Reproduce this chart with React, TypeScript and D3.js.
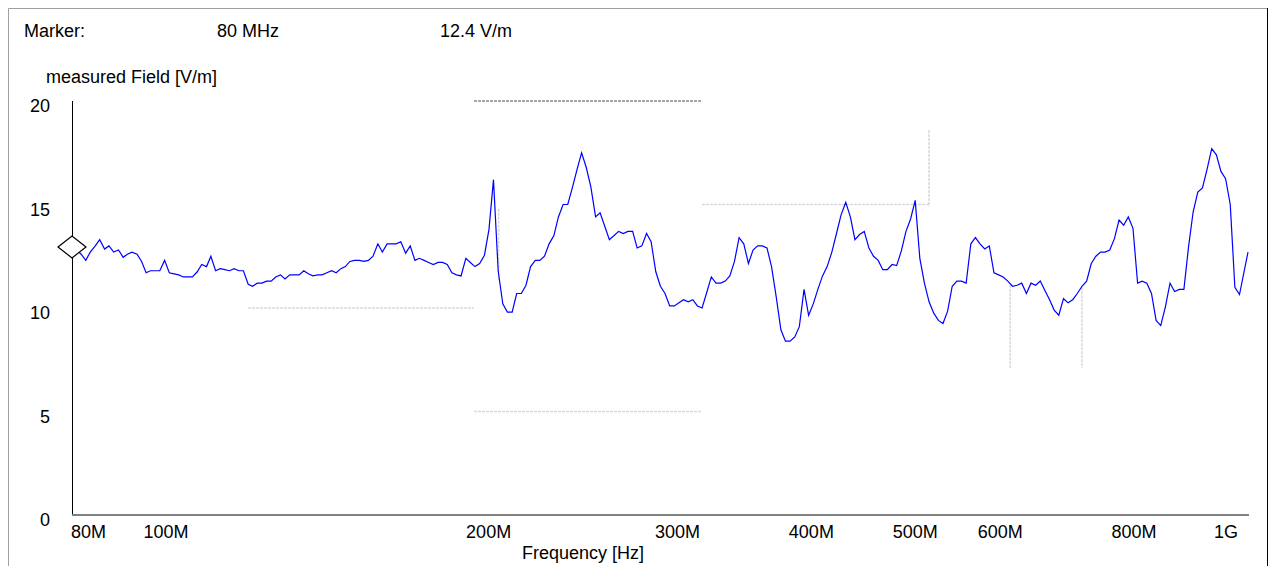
import React from 'react';
import * as d3 from 'd3';

// sweep frequencies (MHz), 1 % steps as stored by the test software
const freqMHz = [
  80.0, 80.8, 81.6, 82.4, 83.2, 84.1, 84.9, 85.8, 86.6, 87.5,
  88.4, 89.3, 90.1, 91.0, 92.0, 92.9, 93.8, 94.7, 95.7, 96.6,
  97.6, 98.6, 99.6, 100.6, 101.6, 102.6, 103.6, 104.7, 105.7, 106.8,
  107.8, 108.9, 110.0, 111.1, 112.2, 113.3, 114.5, 115.6, 116.8, 117.9,
  119.1, 120.3, 121.5, 122.7, 123.9, 125.2, 126.4, 127.7, 129.0, 130.3,
  131.6, 132.9, 134.2, 135.6, 136.9, 138.3, 139.7, 141.1, 142.5, 143.9,
  145.3, 146.8, 148.3, 149.7, 151.2, 152.7, 154.3, 155.8, 157.4, 159.0,
  160.5, 162.1, 163.8, 165.4, 167.1, 168.7, 170.4, 172.1, 173.8, 175.6,
  177.3, 179.1, 180.9, 182.7, 184.5, 186.4, 188.2, 190.1, 192.0, 194.0,
  195.9, 197.8, 199.8, 201.8, 203.8, 205.9, 207.9, 210.0, 212.1, 214.2,
  216.4, 218.5, 220.7, 222.9, 225.2, 227.4, 229.7, 232.0, 234.3, 236.7,
  239.0, 241.4, 243.8, 246.3, 248.7, 251.2, 253.7, 256.3, 258.8, 261.4,
  264.0, 266.7, 269.3, 272.0, 274.8, 277.5, 280.3, 283.1, 285.9, 288.8,
  291.7, 294.6, 297.5, 300.5, 303.5, 306.5, 309.6, 312.7, 315.8, 319.0,
  322.2, 325.4, 328.6, 331.9, 335.2, 338.6, 342.0, 345.4, 348.9, 352.3,
  355.9, 359.4, 363.0, 366.7, 370.3, 374.0, 377.8, 381.5, 385.4, 389.2,
  393.1, 397.0, 401.0, 405.0, 409.1, 413.2, 417.3, 421.5, 425.7, 429.9,
  434.2, 438.6, 443.0, 447.4, 451.9, 456.4, 460.9, 465.6, 470.2, 474.9,
  479.7, 484.5, 489.3, 494.2, 499.1, 504.1, 509.2, 514.3, 519.4, 524.6,
  529.8, 535.1, 540.5, 545.9, 551.4, 556.9, 562.4, 568.1, 573.7, 579.5,
  585.3, 591.1, 597.0, 603.0, 609.0, 615.1, 621.3, 627.5, 633.8, 640.1,
  646.5, 653.0, 659.5, 666.1, 672.8, 679.5, 686.3, 693.1, 700.1, 707.1,
  714.2, 721.3, 728.5, 735.8, 743.1, 750.6, 758.1, 765.7, 773.3, 781.1,
  788.9, 796.8, 804.7, 812.8, 820.9, 829.1, 837.4, 845.8, 854.2, 862.8,
  871.4, 880.1, 888.9, 897.8, 906.8, 915.8, 925.0, 934.3, 943.6, 953.0,
  962.6, 972.2, 981.9, 1000.0,
];

// measured field strength (V/m)
const fieldVm = [
  12.95, 12.8, 12.6, 12.3, 12.7, 13.0, 13.3, 12.85, 13.0, 12.7,
  12.8, 12.45, 12.6, 12.7, 12.6, 12.25, 11.7, 11.8, 11.8, 11.8,
  12.3, 11.7, 11.65, 11.6, 11.5, 11.5, 11.5, 11.75, 12.1, 12.0,
  12.5, 11.8, 11.9, 11.85, 11.8, 11.9, 11.8, 11.8, 11.15, 11.05,
  11.2, 11.2, 11.3, 11.3, 11.5, 11.6, 11.4, 11.6, 11.6, 11.6,
  11.8, 11.65, 11.55, 11.6, 11.6, 11.7, 11.8, 11.7, 11.9, 12.0,
  12.25, 12.3, 12.3, 12.25, 12.3, 12.5, 13.1, 12.7, 13.1, 13.1,
  13.1, 13.2, 12.65, 13.0, 12.3, 12.4, 12.3, 12.2, 12.1, 12.2,
  12.2, 12.1, 11.7, 11.6, 11.55, 12.4, 12.2, 12.0, 12.15, 12.55,
  13.8, 16.2, 11.8, 10.2, 9.8, 9.8, 10.7, 10.7, 11.1, 12.0,
  12.3, 12.3, 12.5, 13.1, 13.5, 14.4, 15.0, 15.0, 15.8, 16.7,
  17.5, 16.8, 15.85, 14.4, 14.6, 13.95, 13.3, 13.5, 13.7, 13.6,
  13.7, 13.7, 12.9, 13.0, 13.6, 13.2, 11.75, 11.05, 10.7, 10.1,
  10.1, 10.25, 10.4, 10.3, 10.4, 10.1, 10.0, 10.75, 11.5, 11.2,
  11.2, 11.3, 11.55, 12.25, 13.4, 13.1, 12.15, 12.8, 13.0, 13.0,
  12.9, 12.0, 10.55, 8.95, 8.4, 8.4, 8.6, 9.1, 10.9, 9.65,
  10.2, 10.9, 11.55, 12.0, 12.7, 13.6, 14.5, 15.1, 14.4, 13.3,
  13.55, 13.7, 12.9, 12.5, 12.3, 11.85, 11.85, 12.1, 12.05, 12.75,
  13.7, 14.3, 15.2, 12.4, 11.2, 10.3, 9.75, 9.4, 9.25, 9.85,
  11.05, 11.3, 11.3, 11.2, 13.1, 13.4, 13.1, 12.85, 13.0, 11.7,
  11.6, 11.5, 11.3, 11.05, 11.1, 11.2, 10.7, 11.2, 11.1, 11.3,
  10.85, 10.4, 9.9, 9.65, 10.45, 10.25, 10.4, 10.7, 11.05, 11.3,
  12.15, 12.5, 12.7, 12.7, 12.8, 13.35, 14.25, 14.0, 14.4, 13.85,
  11.2, 11.3, 11.2, 10.7, 9.4, 9.15, 10.05, 11.2, 10.8, 10.9,
  10.9, 12.95, 14.65, 15.6, 15.8, 16.7, 17.7, 17.4, 16.6, 16.25,
  15.0, 11.0, 10.65, 12.7,
];

const xTickValues = [80, 100, 200, 300, 400, 500, 600, 800, 1000];
const xTickLabels = ['80M', '100M', '200M', '300M', '400M', '500M', '600M', '800M', '1G'];
const yTickValues = [0, 5, 10, 15, 20];

const markerLabel = 'Marker:';
const markerFreqText = '80 MHz';
const markerValueText = '12.4 V/m';

// dotted reference segments: [fromMHz, toMHz, V/m]
const refHorizontal = [
  [116.7, 189.7, 10],
  [189.7, 309.6, 20],
  [189.7, 309.6, 5],
  [309.6, 504, 15],
];
// [MHz, fromVm, toVm]
const refVertical = [
  [200, 14.8, 11.3],
  [504, 18.6, 14.9],
  [600, 11.1, 7.1],
  [700, 11.0, 7.1],
];

const FONT = '"Liberation Sans", Arial, sans-serif';

export default function App() {
  const x = d3.scaleLog().domain([80, 1000]).range([72, 1248]);
  const y = d3.scaleLinear().domain([0, 20]).range([515, 101]);

  const points = freqMHz.map((f, i) => [f, fieldVm[i]] as [number, number]);
  const line = d3.line<[number, number]>()
    .x(d => x(d[0]))
    .y(d => y(d[1]));

  const mx = x(freqMHz[0]);
  const my = y(fieldVm[0]);

  return (
    <div style={{ position: 'fixed', left: 0, top: 0 }}>
      <svg width={1272} height={566} style={{ display: 'block', background: '#fff' }}>
        {/* frame */}
        <line x1={8.5} y1={8.5} x2={1267} y2={8.5} stroke="#a0a0a0" />
        <line x1={8.5} y1={8.5} x2={8.5} y2={566} stroke="#a0a0a0" />
        <line x1={1267.5} y1={8} x2={1267.5} y2={566} stroke="#000" />

        <g fontFamily={FONT} fontSize={18} fill="#000">
          <text x={24} y={37}>{markerLabel}</text>
          <text x={217} y={37}>{markerFreqText}</text>
          <text x={440} y={37}>{markerValueText}</text>
          <text x={46} y={83}>measured Field [V/m]</text>
          <text x={522} y={559}>Frequency [Hz]</text>
        </g>

        {/* dotted reference lines */}
        {refHorizontal.map((s, i) => (
          <line key={'h' + i} x1={x(s[0])} x2={x(s[1])} y1={y(s[2])} y2={y(s[2])}
            stroke={s[2] === 20 ? '#8c8c8c' : '#d8d8d8'} strokeWidth={1.5} strokeDasharray="3,1" />
        ))}
        {refVertical.map((s, i) => (
          <line key={'v' + i} x1={x(s[0])} x2={x(s[0])} y1={y(s[1])} y2={y(s[2])}
            stroke="#d8d8d8" strokeWidth={1.5} strokeDasharray="3,1" />
        ))}

        {/* axes */}
        <line x1={72.5} x2={72.5} y1={y(20)} y2={y(0)} stroke="#000" strokeWidth={1} />
        <line x1={72} x2={1249} y1={y(0)} y2={y(0)} stroke="#808080" strokeWidth={2} />

        <g fontFamily={FONT} fontSize={18} fill="#000">
          {yTickValues.map(v => (
            <text key={v} x={50} y={y(v) + 11} textAnchor="end">{v}</text>
          ))}
          {xTickValues.map((v, i) => {
            const last = i === xTickValues.length - 1;
            const anchor = i === 0 ? 'start' : last ? 'end' : 'middle';
            const tx = i === 0 ? x(v) - 1 : x(v) - 10;
            return (
              <text key={v} x={tx} y={538} textAnchor={anchor}>{xTickLabels[i]}</text>
            );
          })}
        </g>

        {/* measured field */}
        <path d={line(points) || ''} fill="none" stroke="#0000ff" strokeWidth={1.2} />

        {/* marker */}
        <path d={`M${mx - 14},${my} L${mx},${my - 11} L${mx + 14},${my} L${mx},${my + 11} Z`}
          fill="#fff" stroke="#000" strokeWidth={1.2} />
      </svg>
    </div>
  );
}
